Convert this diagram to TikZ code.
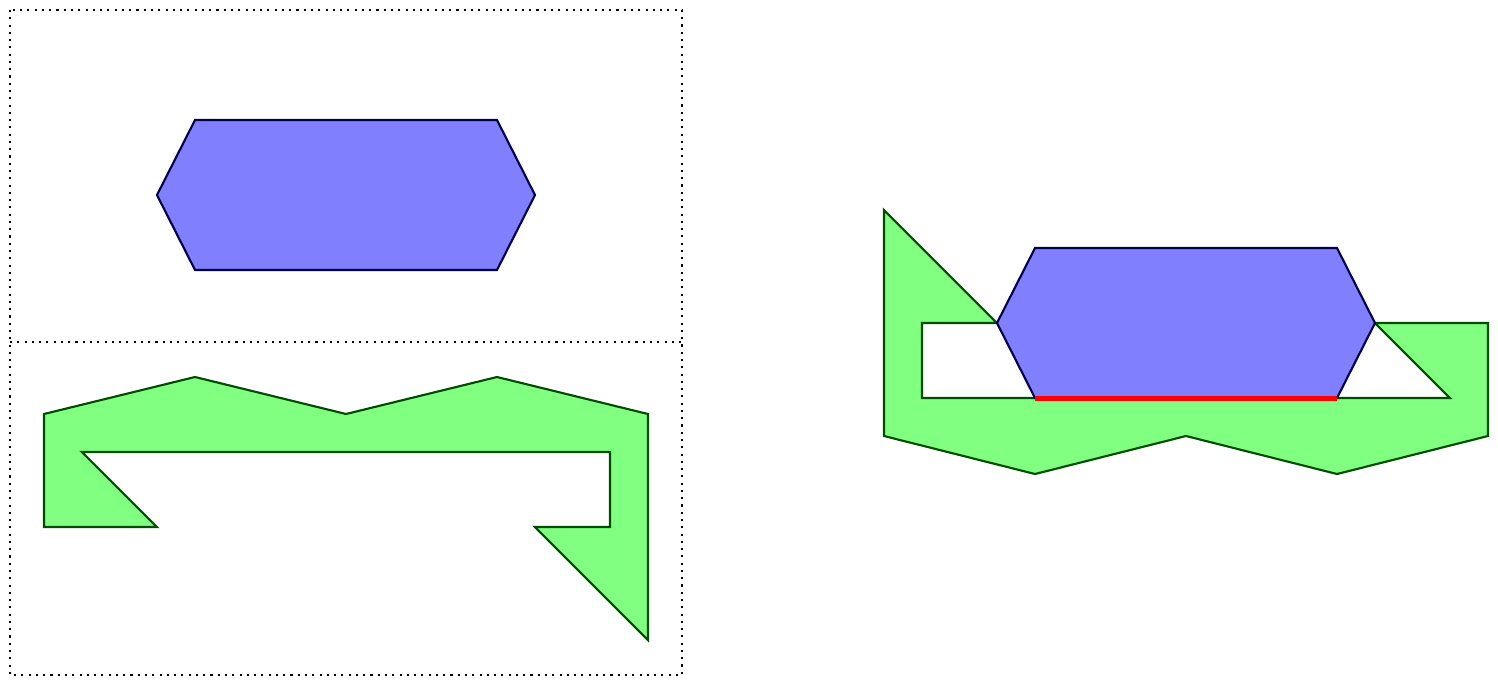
\documentclass[tikz,border=0pt]{standalone}
\usepackage{tikz}

\begin{document}
\begin{tikzpicture}[x=0.33pt, y=-0.33pt,
  hexfill/.style={draw=blue!30!black, fill=blue!50, line width=0.7pt},
  polyfill/.style={draw=green!30!black, fill=green!50, line width=0.7pt},
  frame/.style={line width=0.7pt, dash pattern=on 0.7pt off 1.7pt}]
\useasboundingbox (0,0) rectangle (1498,685);
%----------------- Left panel: the two pieces apart -----------------
\draw[frame] (10,10) rectangle (682,675);
\draw[frame] (10,342) -- (682,342);
% hexagon
\draw[hexfill] (157,195) -- (195,120) -- (497,120) -- (535,195) -- (497,270) -- (195,270) -- cycle;
% hook
\draw[polyfill] (44,414) -- (195,377) -- (346,414) -- (497,377) -- (648,414) -- (648,640)
  -- (535,527) -- (610,527) -- (610,452) -- (82,452) -- (157,527) -- (44,527) -- cycle;
%----------------- Right panel: the pieces fitted together -----------------
% hook, turned over
\draw[polyfill] (884,210) -- (997,323) -- (922,323) -- (922,398) -- (1450,398) -- (1375,323)
  -- (1488,323) -- (1488,436) -- (1337,474) -- (1186,436) -- (1035,474) -- (884,436) -- cycle;
% hexagon
\draw[hexfill] (997,323) -- (1035,248) -- (1337,248) -- (1375,323) -- (1337,398) -- (1035,398) -- cycle;
% contact edge
\draw[red, line width=1.4pt] (1035,398.5) -- (1337,398.5);
\end{tikzpicture}
\end{document}
